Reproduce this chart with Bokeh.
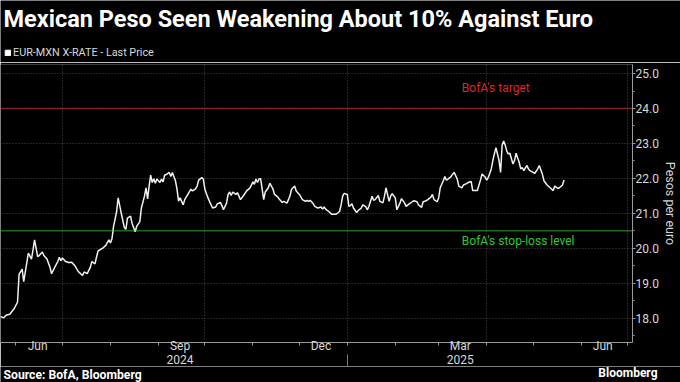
from datetime import datetime
import pandas as pd
from bokeh.plotting import figure
from bokeh.layouts import column
from bokeh.models import (ColumnDataSource, Range1d, FixedTicker, DatetimeAxis, Span, Label,
                          Legend, LegendItem, DatetimeTickFormatter, NumeralTickFormatter)
from bokeh.embed import file_html
from bokeh.resources import INLINE

# ---------------- data ----------------
dates = [
    "2024-05-22", "2024-05-24", "2024-05-26", "2024-05-28", "2024-05-31", "2024-06-02", "2024-06-03",
    "2024-06-05", "2024-06-06", "2024-06-08", "2024-06-09", "2024-06-11", "2024-06-12", "2024-06-13",
    "2024-06-15", "2024-06-16", "2024-06-18", "2024-06-19", "2024-06-21", "2024-06-23", "2024-06-24",
    "2024-06-26", "2024-06-28", "2024-06-29", "2024-06-30", "2024-07-01", "2024-07-03", "2024-07-05",
    "2024-07-07", "2024-07-09", "2024-07-11", "2024-07-12", "2024-07-14", "2024-07-15", "2024-07-17",
    "2024-07-19", "2024-07-20", "2024-07-22", "2024-07-23", "2024-07-24", "2024-07-27", "2024-07-29",
    "2024-07-31", "2024-08-01", "2024-08-02", "2024-08-03", "2024-08-05", "2024-08-06", "2024-08-08",
    "2024-08-10", "2024-08-11", "2024-08-12", "2024-08-14", "2024-08-15", "2024-08-17", "2024-08-18",
    "2024-08-20", "2024-08-21", "2024-08-23", "2024-08-24", "2024-08-25", "2024-08-26", "2024-08-27",
    "2024-08-28", "2024-08-29", "2024-08-30", "2024-08-31", "2024-09-02", "2024-09-03", "2024-09-04",
    "2024-09-05", "2024-09-06", "2024-09-08", "2024-09-09", "2024-09-10", "2024-09-12", "2024-09-13",
    "2024-09-14", "2024-09-15", "2024-09-17", "2024-09-18", "2024-09-20", "2024-09-22", "2024-09-23",
    "2024-09-25", "2024-09-26", "2024-09-27", "2024-09-29", "2024-09-30", "2024-10-01", "2024-10-03",
    "2024-10-05", "2024-10-06", "2024-10-08", "2024-10-09", "2024-10-11", "2024-10-12", "2024-10-13",
    "2024-10-15", "2024-10-16", "2024-10-17", "2024-10-18", "2024-10-19", "2024-10-21", "2024-10-22",
    "2024-10-23", "2024-10-24", "2024-10-26", "2024-10-28", "2024-10-30", "2024-10-31", "2024-11-01",
    "2024-11-02", "2024-11-03", "2024-11-04", "2024-11-05", "2024-11-06", "2024-11-07", "2024-11-08",
    "2024-11-09", "2024-11-11", "2024-11-12", "2024-11-14", "2024-11-15", "2024-11-17", "2024-11-18",
    "2024-11-20", "2024-11-21", "2024-11-23", "2024-11-24", "2024-11-25", "2024-11-26", "2024-11-28",
    "2024-11-29", "2024-12-01", "2024-12-02", "2024-12-03", "2024-12-05", "2024-12-06", "2024-12-07",
    "2024-12-08", "2024-12-10", "2024-12-11", "2024-12-13", "2024-12-15", "2024-12-16", "2024-12-17",
    "2024-12-18", "2024-12-20", "2024-12-22", "2024-12-24", "2024-12-25", "2024-12-27", "2024-12-28",
    "2024-12-29", "2024-12-30", "2025-01-01", "2025-01-02", "2025-01-03", "2025-01-04", "2025-01-05",
    "2025-01-07", "2025-01-08", "2025-01-10", "2025-01-11", "2025-01-13", "2025-01-14", "2025-01-15",
    "2025-01-17", "2025-01-18", "2025-01-19", "2025-01-21", "2025-01-22", "2025-01-24", "2025-01-25",
    "2025-01-26", "2025-01-28", "2025-01-29", "2025-01-30", "2025-02-01", "2025-02-02", "2025-02-04",
    "2025-02-05", "2025-02-07", "2025-02-08", "2025-02-10", "2025-02-12", "2025-02-13", "2025-02-15",
    "2025-02-16", "2025-02-18", "2025-02-19", "2025-02-21", "2025-02-22", "2025-02-24", "2025-02-25",
    "2025-02-26", "2025-02-28", "2025-03-01", "2025-03-02", "2025-03-04", "2025-03-05", "2025-03-06",
    "2025-03-07", "2025-03-09", "2025-03-10", "2025-03-11", "2025-03-13", "2025-03-14", "2025-03-16",
    "2025-03-17", "2025-03-19", "2025-03-20", "2025-03-22", "2025-03-23", "2025-03-25", "2025-03-26",
    "2025-03-28", "2025-03-29", "2025-03-31", "2025-04-01", "2025-04-02", "2025-04-04", "2025-04-05",
    "2025-04-06", "2025-04-07", "2025-04-09", "2025-04-10", "2025-04-11", "2025-04-12", "2025-04-13",
    "2025-04-14", "2025-04-15", "2025-04-16", "2025-04-18", "2025-04-19", "2025-04-20", "2025-04-22",
    "2025-04-23", "2025-04-24", "2025-04-25", "2025-04-27", "2025-04-28", "2025-04-29", "2025-05-01",
    "2025-05-02", "2025-05-04", "2025-05-05", "2025-05-07", "2025-05-08", "2025-05-10", "2025-05-12",
    "2025-05-14", "2025-05-15", "2025-05-17", "2025-05-18", "2025-05-20", "2025-05-21",
]
eur_mxn = [
    18.04, 18.01, 18.09, 18.11, 18.28, 18.46, 19.25,
    19.40, 19.04, 19.59, 19.86, 19.69, 19.95, 20.24,
    19.76, 19.79, 19.89, 19.79, 19.69, 19.45, 19.27,
    19.45, 19.62, 19.74, 19.64, 19.72, 19.62, 19.59,
    19.60, 19.50, 19.35, 19.30, 19.22, 19.32, 19.27,
    19.45, 19.62, 19.55, 19.74, 19.92, 20.00, 20.08,
    20.24, 20.15, 20.27, 20.62, 21.05, 21.44, 21.00,
    20.59, 20.54, 20.86, 20.92, 20.71, 20.47, 20.63,
    20.76, 21.15, 21.49, 21.73, 21.41, 21.78, 22.09,
    21.88, 21.99, 21.86, 21.98, 21.88, 21.98, 21.90,
    22.09, 22.11, 22.17, 22.05, 22.17, 21.93, 21.69,
    21.35, 21.44, 21.24, 21.39, 21.54, 21.69, 21.64,
    21.70, 21.78, 21.95, 22.02, 21.98, 21.69, 21.44,
    21.24, 21.15, 21.18, 21.27, 21.31, 21.22, 21.10,
    21.29, 21.54, 21.61, 21.51, 21.61, 21.54, 21.59,
    21.49, 21.39, 21.51, 21.64, 21.72, 21.80, 21.90,
    21.83, 21.98, 21.88, 21.99, 21.99, 21.69, 21.39,
    21.61, 21.73, 21.86, 21.69, 21.54, 21.47, 21.41,
    21.31, 21.34, 21.29, 21.39, 21.50, 21.69, 21.78,
    21.64, 21.54, 21.47, 21.39, 21.34, 21.37, 21.34,
    21.37, 21.27, 21.20, 21.15, 21.18, 21.12, 21.18,
    21.12, 21.05, 20.97, 20.97, 20.98, 21.05, 21.24,
    21.49, 21.57, 21.54, 21.20, 21.22, 21.27, 21.15,
    21.02, 21.08, 21.15, 21.24, 21.18, 21.10, 21.20,
    21.49, 21.37, 21.39, 21.51, 21.34, 21.30, 21.49,
    21.73, 21.34, 21.49, 21.56, 21.44, 21.10, 21.29,
    21.42, 21.29, 21.20, 21.27, 21.33, 21.36, 21.33,
    21.24, 21.17, 21.33, 21.36, 21.39, 21.46, 21.54,
    21.39, 21.33, 21.44, 21.73, 21.93, 22.05, 21.95,
    21.98, 22.05, 22.12, 22.17, 21.98, 21.78, 21.73,
    21.81, 21.85, 21.88, 21.91, 21.65, 21.65, 21.65,
    21.95, 22.12, 22.04, 21.95, 22.02, 22.27, 22.51,
    22.70, 22.88, 22.51, 22.17, 22.95, 23.07, 22.95,
    22.78, 22.70, 22.72, 22.41, 22.51, 22.72, 22.46,
    22.27, 22.31, 22.22, 22.37, 22.27, 22.22, 22.17,
    22.14, 22.27, 22.37, 22.12, 21.93, 21.81, 21.73,
    21.65, 21.78, 21.71, 21.73, 21.81, 21.95,
]
bofa_target = 24.0
bofa_stop_loss = 20.5
y_ticks = [18, 19, 20, 21, 22, 23, 24, 25]
y_minor_ticks = [17.5, 18.5, 19.5, 20.5, 21.5, 22.5, 23.5, 24.5, 25.5]
month_label_dates = ["2024-06-15", "2024-09-15", "2024-12-15", "2025-03-15", "2025-06-15"]
year_label_dates = ["2024-09-15", "2025-03-15"]
year_break_dates = ["2025-01-01"]
quarter_start_dates = ["2024-07-01", "2024-10-01", "2025-01-01", "2025-04-01", "2025-07-01"]
month_start_dates = ["2024-06-01", "2024-07-01", "2024-08-01", "2024-09-01", "2024-10-01",
                     "2024-11-01", "2024-12-01", "2025-01-01", "2025-02-01", "2025-03-01",
                     "2025-04-01", "2025-05-01", "2025-06-01", "2025-07-01"]

title_text = "Mexican Peso Seen Weakening About 10% Against Euro"
legend_text = "EUR-MXN X-RATE - Last Price"
source_text = "Source: BofA, Bloomberg"
brand_text = "Bloomberg"


def ms(values):
    return [pd.Timestamp(v).timestamp() * 1000.0 for v in values]


FONT = "Roboto"
BG = "#000000"
W = 680
HEAD_H, MAIN_H, FOOT_H = 62, 304, 16


def blank(height):
    f = figure(width=W, height=height, x_range=Range1d(0, W), y_range=Range1d(0, height),
               x_axis_location=None, y_axis_location=None, title=None,
               output_backend="svg", toolbar_location=None,
               background_fill_color=BG, border_fill_color=BG, outline_line_color=None,
               min_border_left=0, min_border_right=0, min_border_top=0, min_border_bottom=0,
               frame_align=False)
    f.xgrid.visible = False
    f.ygrid.visible = False
    return f


# ---------------- header: title + legend ----------------
head = blank(HEAD_H)
head.add_layout(Label(x=3, y=HEAD_H - 18, x_units="screen", y_units="screen", text=title_text,
                      text_color="#ffffff", text_font=FONT, text_font_size="23.5px",
                      text_font_style="bold", text_baseline="middle"))
nan = float("nan")
swatch = head.quad(left=[nan], right=[nan], top=[nan], bottom=[nan],
                   fill_color="#ffffff", line_color="#ffffff")
head.add_layout(Legend(items=[LegendItem(label=legend_text, renderers=[swatch])],
                       location=(4, 3), orientation="horizontal", padding=0, margin=0, spacing=0,
                       label_text_font=FONT, label_text_font_size="10.8px",
                       label_text_color="#d8d8d8", glyph_width=7, glyph_height=7,
                       label_standoff=2, label_height=13,
                       background_fill_alpha=0, border_line_color=None))

# ---------------- main chart ----------------
source = ColumnDataSource(data=dict(date=pd.to_datetime(dates), rate=eur_mxn))
p = figure(width=W, height=MAIN_H, x_axis_type="datetime", y_axis_location="right",
           x_range=Range1d(datetime(2024, 5, 22), datetime(2025, 7, 4, 5)),
           y_range=Range1d(17.30, 25.26), title=None,
           output_backend="svg", toolbar_location=None,
           background_fill_color=BG, border_fill_color=BG,
           outline_line_color=None, min_border_left=0, min_border_right=0,
           min_border_top=2, min_border_bottom=0, frame_align=False)

p.ygrid.grid_line_color = "#4a4a4a"
p.ygrid.grid_line_dash = "1 2"
p.xgrid.ticker = FixedTicker(ticks=ms(quarter_start_dates))
p.xgrid.grid_line_color = "#4a4a4a"
p.xgrid.grid_line_dash = "1 2"

yax = p.yaxis[0]
yax.ticker = FixedTicker(ticks=y_ticks, minor_ticks=y_minor_ticks)
yax.formatter = NumeralTickFormatter(format="0.0")
yax.axis_label = "Pesos per euro"
yax.axis_label_text_font = FONT
yax.axis_label_text_font_style = "normal"
yax.axis_label_text_font_size = "12.5px"
yax.axis_label_text_color = "#d8d8d8"
yax.axis_label_standoff = 1
yax.major_label_text_font = FONT
yax.major_label_text_font_size = "12px"
yax.major_label_text_color = "#d8d8d8"
yax.major_label_standoff = 0
yax.axis_line_color = "#9a9a9a"
yax.major_tick_line_color = "#9a9a9a"
yax.minor_tick_line_color = "#9a9a9a"
yax.major_tick_in = 0
yax.major_tick_out = 3
yax.minor_tick_in = 0
yax.minor_tick_out = 2

xax = p.xaxis[0]
xax.ticker = FixedTicker(ticks=ms(month_label_dates), minor_ticks=ms(month_start_dates))
xax.formatter = DatetimeTickFormatter(days="%b", months="%b", years="%b")
xax.major_tick_line_color = None
xax.major_tick_in = 0
xax.major_tick_out = 0
xax.minor_tick_in = 0
xax.minor_tick_out = 3
xax.minor_tick_line_color = "#9a9a9a"
xax.axis_line_color = "#9a9a9a"
xax.major_label_text_font = FONT
xax.major_label_text_font_size = "12px"
xax.major_label_text_color = "#d8d8d8"
xax.major_label_standoff = -7

year_axis = DatetimeAxis(ticker=FixedTicker(ticks=ms(year_label_dates), minor_ticks=ms(year_break_dates)),
                         formatter=DatetimeTickFormatter(days="%Y", months="%Y", years="%Y"))
year_axis.axis_line_color = None
year_axis.major_tick_line_color = None
year_axis.major_tick_in = 0
year_axis.major_tick_out = 0
year_axis.minor_tick_line_color = "#7a7a7a"
year_axis.minor_tick_in = 1
year_axis.minor_tick_out = 13
year_axis.major_label_text_font = FONT
year_axis.major_label_text_font_size = "12px"
year_axis.major_label_text_color = "#d8d8d8"
year_axis.major_label_standoff = -14
p.add_layout(year_axis, "below")

p.add_layout(Span(location=bofa_target, dimension="width", line_color="#e8312f",
                  line_dash="1 1", line_width=1.3))
p.add_layout(Span(location=bofa_stop_loss, dimension="width", line_color="#3bd13b",
                  line_dash="1 1", line_width=1.3))
p.add_layout(Label(x=datetime(2025, 3, 16), y=24.59, text="BofA's target", text_color="#d92b2b",
                   text_font=FONT, text_font_size="12px", text_baseline="middle"))
p.add_layout(Label(x=datetime(2025, 3, 16), y=20.22, text="BofA's stop-loss level",
                   text_color="#33c633", text_font=FONT, text_font_size="12px",
                   text_baseline="middle"))

p.line(x="date", y="rate", source=source, line_color="#f2f2f2", line_width=1.5)

# ---------------- footer ----------------
foot = blank(FOOT_H)
foot.add_layout(Label(x=3, y=8, x_units="screen", y_units="screen", text=source_text,
                      text_color="#ffffff", text_font=FONT, text_font_size="12.2px",
                      text_font_style="bold", text_baseline="middle"))
foot.add_layout(Label(x=657, y=10, x_units="screen", y_units="screen", text=brand_text,
                      text_color="#ffffff", text_font=FONT, text_font_size="12px",
                      text_font_style="bold", text_baseline="middle", text_align="right"))

page = column(head, p, foot, spacing=0)
open("out.html", "w").write(file_html(page, INLINE))
